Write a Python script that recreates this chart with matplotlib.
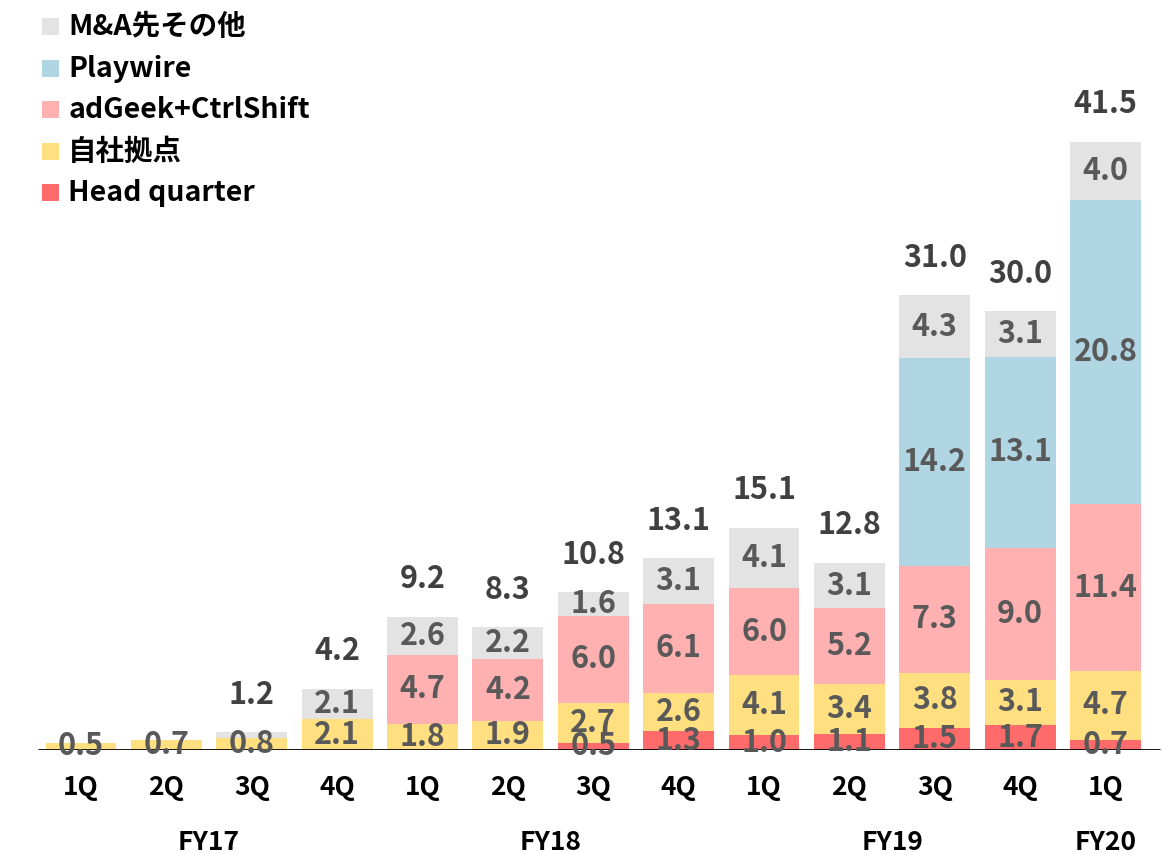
import numpy as np
import matplotlib
matplotlib.use("Agg")
import matplotlib.pyplot as plt
from matplotlib.patches import Rectangle

plt.rcParams['font.family'] = ['Noto Sans CJK JP', 'DejaVu Sans']

# data
quarters = ["1Q", "2Q", "3Q", "4Q", "1Q", "2Q", "3Q", "4Q", "1Q", "2Q", "3Q", "4Q", "1Q"]
years = ["FY17", "FY18", "FY19", "FY20"]
year_pos = [1.5, 5.5, 9.5, 12]

series_names = ["Head quarter", "自社拠点", "adGeek+CtrlShift", "Playwire", "M&A先その他"]
head_quarter = [0, 0, 0, 0, 0, 0.1, 0.5, 1.3, 1.0, 1.1, 1.5, 1.7, 0.7]
own_base = [0.5, 0.7, 0.8, 2.1, 1.8, 1.9, 2.7, 2.6, 4.1, 3.4, 3.8, 3.1, 4.7]
adgeek = [0, 0, 0, 0, 4.7, 4.2, 6.0, 6.1, 6.0, 5.2, 7.3, 9.0, 11.4]
playwire = [0, 0, 0, 0, 0, 0, 0, 0, 0, 0, 14.2, 13.1, 20.8]
ma_other = [0, 0, 0.4, 2.1, 2.6, 2.2, 1.6, 3.1, 4.1, 3.1, 4.3, 3.1, 4.0]
totals = [0.5, 0.7, 1.2, 4.2, 9.2, 8.3, 10.8, 13.1, 15.1, 12.8, 31.0, 30.0, 41.5]

colors = ["#FF6B6B", "#FFDF80", "#FFB0B0", "#B0D6E4", "#E3E3E3"]

fig = plt.figure(figsize=(11.63, 8.55), dpi=100)
ax = fig.add_axes([0.0, 0.1228, 1.0, 0.8772])

x = np.arange(len(quarters))
stack = [head_quarter, own_base, adgeek, playwire, ma_other]
bottom = np.zeros(len(quarters))
for vals, c in zip(stack, colors):
    vals = np.array(vals)
    ax.bar(x, vals, bottom=bottom, width=0.83, color=c, edgecolor='none', zorder=2)
    for xi, v, b in zip(x, vals, bottom):
        if v >= 0.5:
            ax.text(xi, b + v / 2, f"{v:.1f}", ha='center', va='center',
                    fontsize=22, fontweight='bold', color='#595959', zorder=4)
    bottom += vals

# totals above bars (skip first two, which only have one segment)
for xi, t, top in zip(x, totals, bottom):
    if xi < 2:
        continue
    ax.annotate(f"{t:.1f}", (xi, top), xytext=(0, 27), textcoords='offset points',
                ha='center', va='center', fontsize=22, fontweight='bold', color='#404040')

ax.set_xlim(-0.948, 12.673)
ax.set_ylim(0, 51.3)
ax.plot([-0.5, 12.64], [0, 0], color='black', lw=2, zorder=3, solid_capstyle='butt')
for s in ax.spines.values():
    s.set_visible(False)
ax.set_xticks([])
ax.set_yticks([])

for xi, q in zip(x, quarters):
    ax.text(xi, -2.55, q, ha='center', va='center', fontsize=19, fontweight='bold',
            color='black', clip_on=False)
for xp, y in zip(year_pos, years):
    ax.text(xp, -6.3, y, ha='center', va='center', fontsize=19, fontweight='bold',
            color='black', clip_on=False)

# legend, top-left
legend_y = [27, 69, 110, 152, 193]
for name, c, yp in zip(series_names[::-1], colors[::-1], legend_y):
    fy = 1 - yp / 855
    fig.patches.append(Rectangle((42 / 1163, fy - 8.5 / 855), 17 / 1163, 17 / 855,
                                 transform=fig.transFigure, facecolor=c, edgecolor='none'))
    fig.text(68 / 1163, fy, name, ha='left', va='center', fontsize=20.5,
             fontweight='bold', color='black')

fig.savefig("out.png", dpi=100)
